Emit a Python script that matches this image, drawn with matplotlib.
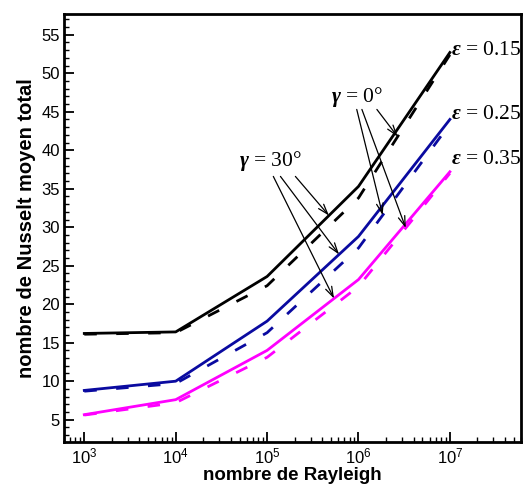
import numpy as np
import matplotlib
matplotlib.use("Agg")
from matplotlib import pyplot as plt
from matplotlib.ticker import LogLocator, MultipleLocator, NullFormatter

plt.rcParams["mathtext.fontset"] = "custom"
plt.rcParams["mathtext.rm"] = "Liberation Sans"
plt.rcParams["mathtext.bf"] = "Liberation Serif:bold:italic"

# data
rayleigh = [1e3, 1e4, 1e5, 1e6, 1e7]
nu_015_solid = [16.2, 16.4, 23.6, 35.3, 52.7]
nu_015_dash = [16.1, 16.3, 22.4, 33.8, 52.4]
nu_025_solid = [8.8, 10.0, 17.8, 28.8, 44.0]
nu_025_dash = [8.7, 9.7, 16.3, 27.3, 43.4]
nu_035_solid = [5.65, 7.6, 14.0, 23.2, 37.2]
nu_035_dash = [5.6, 7.2, 13.1, 22.3, 37.0]

eps_labels = ["0.15", "0.25", "0.35"]
eps_label_y = [52.9, 44.7, 38.8]
colors = ["black", "#0A0AA0", "#FF00FF"]

# where the arrows land (Rayleigh value), order: black, blue, magenta
gamma0_targets = [2.68e6, 1.84e6, 3.29e6]
gamma30_targets = [4.75e5, 6.13e5, 5.40e5]


def on_curve(x, ys):
    return float(np.interp(np.log10(x), np.log10(rayleigh), ys))


fig = plt.figure(figsize=(5.26, 4.87), dpi=100)
ax = fig.add_axes([0.1217, 0.0924, 0.8688, 0.8789])

solids = [nu_015_solid, nu_025_solid, nu_035_solid]
dashes = [nu_015_dash, nu_025_dash, nu_035_dash]
for ys, yd, c in zip(solids, dashes, colors):
    ax.plot(rayleigh, ys, color=c, lw=2)
    ax.plot(rayleigh, yd, color=c, lw=2, ls=(0, (4.5, 7)))

ax.set_xscale("log")
ax.set_xlim(600, 6e7)
ax.set_ylim(2.1, 57.7)
ax.yaxis.set_major_locator(MultipleLocator(5))
ax.yaxis.set_minor_locator(MultipleLocator(1))
ax.xaxis.set_major_locator(LogLocator(base=10, numticks=10))
ax.xaxis.set_minor_locator(LogLocator(base=10, subs=np.arange(2, 10), numticks=20))
ax.xaxis.set_minor_formatter(NullFormatter())
ax.set_yticks(range(5, 56, 5))

ax.tick_params(which="both", direction="in", top=False, right=False,
               labelsize=12, width=1.3, pad=3)
ax.tick_params(which="major", length=7)
ax.tick_params(which="minor", length=3.5, width=1)
for s in ax.spines.values():
    s.set_linewidth(2)
for lab in ax.get_xticklabels() + ax.get_yticklabels():
    lab.set_family("Liberation Sans")

ax.set_xlabel("nombre de Rayleigh", fontsize=13.5, fontweight="bold",
              family="Liberation Sans", labelpad=1)
ax.set_ylabel("nombre de Nusselt moyen total", fontsize=14.5, fontweight="bold",
              family="Liberation Sans", labelpad=4)

# epsilon labels
for lab, yy in zip(eps_labels, eps_label_y):
    ax.text(1.02e7, yy, r"$\mathbf{\varepsilon}$ = " + lab, ha="left", va="center",
            fontsize=15.5, family="Liberation Serif")

# gamma annotations
ax.text(9.6e5, 46.9, r"$\mathbf{\gamma}$ = 0°", ha="center", va="center",
        fontsize=15.5, family="Liberation Serif")
ax.text(1.08e5, 38.6, r"$\mathbf{\gamma}$ = 30°", ha="center", va="center",
        fontsize=15.5, family="Liberation Serif")

arrow = dict(arrowstyle="->,head_length=0.6,head_width=0.2", color="black",
             lw=0.9, mutation_scale=12, shrinkA=0, shrinkB=0)
starts0 = [1.59e6, 9.57e5, 1.09e6]
for x0, xt, yd in zip(starts0, gamma0_targets, dashes):
    ax.annotate("", xy=(xt, on_curve(xt, yd)), xytext=(x0, 45.3), arrowprops=arrow)
starts30 = [2.04e5, 1.40e5, 1.17e5]
for x0, xt, ys in zip(starts30, gamma30_targets, solids):
    ax.annotate("", xy=(xt, on_curve(xt, ys)), xytext=(x0, 36.6), arrowprops=arrow)

fig.savefig("out.png", dpi=100)
